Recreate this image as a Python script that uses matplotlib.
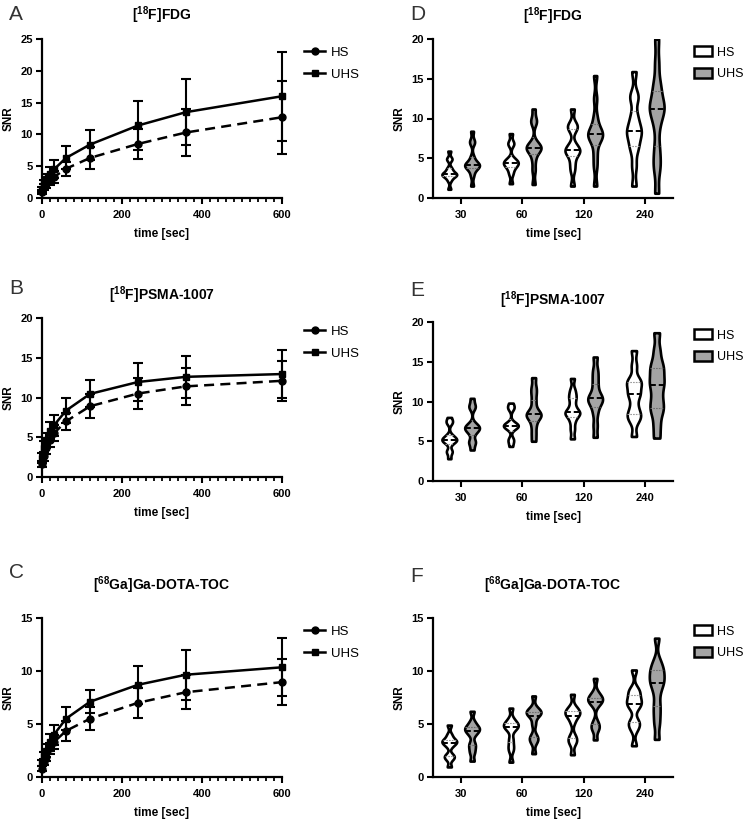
import numpy as np
import matplotlib
matplotlib.use("Agg")
import matplotlib.pyplot as plt
from matplotlib.ticker import MultipleLocator
from matplotlib.lines import Line2D
from matplotlib.patches import Patch

plt.rcParams['font.family'] = ['Liberation Sans', 'DejaVu Sans']
plt.rcParams['mathtext.fontset'] = 'custom'
plt.rcParams['mathtext.rm'] = 'Liberation Sans'
plt.rcParams['mathtext.bf'] = 'Liberation Sans:bold'
plt.rcParams['mathtext.default'] = 'bf'

# ---- line panels (A-C): mean SNR +- SD over acquisition time ----
times = [1, 5, 10, 20, 30, 60, 120, 240, 360, 600]

fdg_hs = [1.0, 1.7, 2.2, 2.8, 3.3, 4.6, 6.3, 8.5, 10.3, 12.7]
fdg_hs_sd = [0.3, 0.5, 0.6, 0.7, 0.9, 1.1, 1.75, 2.4, 3.75, 5.75]
fdg_uhs = [1.3, 2.3, 3.0, 3.8, 4.5, 6.3, 8.4, 11.4, 13.5, 16.0]
fdg_uhs_sd = [0.4, 0.6, 0.8, 1.0, 1.4, 1.8, 2.35, 3.8, 5.2, 7.0]

psma_hs = [1.6, 2.6, 3.6, 4.6, 5.5, 7.0, 8.9, 10.5, 11.4, 12.1]
psma_hs_sd = [0.4, 0.6, 0.7, 0.8, 1.0, 1.1, 1.5, 1.95, 2.3, 2.5]
psma_uhs = [2.4, 3.7, 4.6, 5.8, 6.5, 8.35, 10.45, 11.95, 12.6, 12.95]
psma_uhs_sd = [0.6, 0.8, 0.9, 1.1, 1.3, 1.6, 1.7, 2.4, 2.6, 3.05]

dota_hs = [0.8, 1.4, 1.9, 2.7, 3.3, 4.35, 5.5, 7.0, 8.0, 8.95]
dota_hs_sd = [0.2, 0.3, 0.4, 0.5, 0.7, 0.95, 1.1, 1.4, 1.6, 2.2]
dota_uhs = [1.3, 2.0, 2.5, 3.3, 4.0, 5.5, 7.1, 8.7, 9.65, 10.35]
dota_uhs_sd = [0.3, 0.4, 0.6, 0.8, 0.95, 1.1, 1.1, 1.8, 2.35, 2.75]

# ---- violin panels (D-F): per-lesion SNR at 30/60/120/240 s ----
cats = ['30', '60', '120', '240']

fdg_hs_v = [
    [1.1, 2.2, 2.6, 2.8, 2.9, 3.0, 3.0, 3.2, 3.5, 3.8, 4.8, 5.0, 5.9],
    [1.8, 3.0, 3.6, 4.0, 4.2, 4.4, 4.5, 4.7, 5.0, 6.7, 7.0, 8.1],
    [1.5, 3.5, 4.5, 5.5, 5.8, 6.0, 6.2, 6.8, 8.6, 9.0, 9.3, 11.2],
    [1.5, 4.0, 6.0, 6.8, 7.8, 8.3, 8.6, 9.5, 10.5, 12.5, 13.0, 15.9],
]
fdg_uhs_v = [
    [1.5, 2.8, 3.5, 3.8, 4.0, 4.1, 4.2, 4.3, 4.6, 5.2, 6.9, 7.2, 8.4],
    [1.7, 3.5, 4.8, 5.8, 6.1, 6.2, 6.4, 6.6, 7.0, 9.5, 9.8, 11.2],
    [1.5, 4.0, 5.5, 7.0, 7.6, 7.9, 8.1, 8.3, 9.0, 10.2, 12.5, 15.4],
    [0.6, 3.5, 4.8, 6.5, 9.0, 10.5, 11.2, 11.5, 12.0, 13.5, 14.5, 17.0, 20.0],
]
psma_hs_v = [
    [2.8, 3.6, 3.8, 4.7, 5.0, 5.1, 5.2, 5.3, 5.5, 5.8, 7.3, 7.5, 8.0],
    [4.35, 5.0, 5.3, 6.6, 6.8, 6.9, 7.0, 7.1, 7.3, 9.1, 9.3, 9.8],
    [5.3, 6.5, 7.5, 8.2, 8.5, 8.6, 8.8, 9.5, 10.3, 10.8, 11.5, 12.9],
    [5.6, 7.5, 8.2, 8.5, 9.5, 10.8, 11.0, 12.0, 12.4, 12.8, 14.5, 16.4],
]
psma_uhs_v = [
    [3.9, 4.8, 5.0, 6.0, 6.4, 6.6, 6.7, 6.9, 7.2, 9.2, 9.5, 10.4],
    [5.0, 6.0, 7.0, 7.8, 8.2, 8.3, 8.5, 9.0, 10.0, 11.0, 11.8, 13.0],
    [5.5, 7.0, 8.5, 9.5, 10.0, 10.3, 10.5, 11.0, 12.0, 13.0, 14.0, 15.6],
    [5.4, 7.0, 8.5, 9.2, 10.0, 11.0, 12.1, 12.5, 13.5, 14.2, 15.0, 16.5, 18.65],
]
dota_hs_v = [
    [0.95, 1.7, 1.9, 2.1, 2.9, 3.2, 3.3, 3.4, 3.6, 4.0, 4.9],
    [1.4, 2.5, 3.0, 3.6, 4.4, 4.7, 4.8, 5.0, 5.1, 5.5, 6.5],
    [2.1, 3.2, 3.5, 3.9, 5.2, 5.8, 5.9, 6.1, 6.3, 6.6, 7.8],
    [2.95, 4.5, 5.0, 5.3, 6.5, 6.9, 7.1, 7.5, 8.0, 8.3, 10.1],
]
dota_uhs_v = [
    [1.5, 2.3, 2.8, 3.2, 4.0, 4.3, 4.5, 4.6, 4.8, 5.2, 6.2],
    [2.2, 3.3, 3.6, 3.9, 5.0, 5.8, 6.0, 6.1, 6.2, 6.5, 7.65],
    [3.5, 4.5, 4.75, 5.2, 6.8, 7.1, 7.3, 7.4, 7.6, 8.0, 9.3],
    [3.55, 5.0, 6.0, 6.9, 8.0, 8.8, 9.0, 9.5, 10.0, 10.3, 11.0, 13.1],
]

titles = [r'[$^{18}$F]FDG', r'[$^{18}$F]PSMA-1007', r'[$^{68}$Ga]Ga-DOTA-TOC']
GRAY = '#a4a4a4'
W, H = 749, 823

fig = plt.figure(figsize=(W / 100, H / 100), dpi=100)


def px_axes(left, top, right, bottom):
    return fig.add_axes([left / W, 1 - bottom / H, (right - left) / W, (bottom - top) / H])


def fig_text(x, y, s, **kw):
    fig.text(x / W, 1 - y / H, s, **kw)


def style_axes(ax):
    for s in ['top', 'right']:
        ax.spines[s].set_visible(False)
    for s in ['left', 'bottom']:
        ax.spines[s].set_linewidth(1.6)
    ax.tick_params(which='major', width=1.5, length=4.5, labelsize=8, pad=2)
    ax.tick_params(axis='x', which='major', pad=4)
    ax.tick_params(which='minor', width=1.3, length=2.8)
    for lab in ax.get_xticklabels() + ax.get_yticklabels():
        lab.set_fontweight('bold')
    ax.set_ylabel('SNR', fontsize=8.5, fontweight='bold', labelpad=4)
    ax.set_xlabel('time [sec]', fontsize=8.5, fontweight='bold', labelpad=6)


def line_panel(ax, hs, hs_sd, uhs, uhs_sd, ymax):
    ax.errorbar(times, uhs, yerr=uhs_sd, color='black', lw=1.8, marker='s', ms=5,
                capsize=3.5, capthick=1.5, elinewidth=1.5, clip_on=False, zorder=3)
    ax.errorbar(times, hs, yerr=hs_sd, color='black', lw=1.8, ls=(0, (4, 2.5)), marker='o', ms=5,
                capsize=3.5, capthick=1.5, elinewidth=1.5, clip_on=False, zorder=3)
    ax.set_xlim(0, 600)
    ax.set_ylim(0, ymax)
    ax.xaxis.set_major_locator(MultipleLocator(200))
    ax.xaxis.set_minor_locator(MultipleLocator(20))
    ax.yaxis.set_major_locator(MultipleLocator(5))
    style_axes(ax)
    handles = [Line2D([], [], color='black', lw=1.8, marker='o', ms=5),
               Line2D([], [], color='black', lw=1.8, marker='s', ms=5)]
    ax.legend(handles, ['HS', 'UHS'], loc='upper left', bbox_to_anchor=(1.065, 0.995),
              frameon=False, borderpad=0, fontsize=9.5, handlelength=1.6,
              handletextpad=0.4, labelspacing=0.75)


def half_width(body, pos, y):
    v = body.get_paths()[0].vertices
    right = v[v[:, 0] >= pos]
    order = np.argsort(right[:, 1])
    return np.interp(y, right[order, 1], right[order, 0] - pos)


def violin_panel(ax, hs_v, uhs_v, ymax):
    x = np.arange(len(cats))
    for data, off, face, qcol in [(hs_v, -0.185, 'white', '#9a9a9a'), (uhs_v, 0.185, GRAY, '#6e6e6e')]:
        pos = x + off
        parts = ax.violinplot(data, positions=pos, widths=0.24, showextrema=False,
                              bw_method=0.22, points=300)
        for body, p, d in zip(parts['bodies'], pos, data):
            body.set_facecolor(face)
            body.set_edgecolor('black')
            body.set_linewidth(1.9)
            body.set_alpha(1)
            q1, med, q3 = np.percentile(d, [25, 50, 75])
            for q in (q1, q3):
                hw = half_width(body, p, q)
                ax.plot([p - hw, p + hw], [q, q], color=qcol, lw=0.8, ls=(0, (1.5, 1)), zorder=3)
            hw = half_width(body, p, med)
            ax.plot([p - hw, p + hw], [med, med], color='black', lw=1.4, ls=(0, (3, 1.5)), zorder=3)
    ax.set_xlim(-0.45, 3.45)
    ax.set_ylim(0, ymax)
    ax.set_xticks(x)
    ax.set_xticklabels(cats)
    ax.yaxis.set_major_locator(MultipleLocator(5))
    style_axes(ax)
    handles = [Patch(facecolor='white', edgecolor='black', lw=1.8),
               Patch(facecolor=GRAY, edgecolor='black', lw=1.8)]
    ax.legend(handles, ['HS', 'UHS'], loc='upper left', bbox_to_anchor=(1.06, 0.995),
              frameon=False, borderpad=0, fontsize=9, handlelength=1.45, handleheight=0.9,
              handletextpad=0.45, labelspacing=0.75)


axA = px_axes(42, 39, 282, 198)
axB = px_axes(42, 318, 282, 477)
axC = px_axes(42, 618, 282, 777)
axD = px_axes(433, 39, 673, 198)
axE = px_axes(433, 322, 673, 481)
axF = px_axes(433, 618, 673, 777)

line_panel(axA, fdg_hs, fdg_hs_sd, fdg_uhs, fdg_uhs_sd, 25)
line_panel(axB, psma_hs, psma_hs_sd, psma_uhs, psma_uhs_sd, 20)
line_panel(axC, dota_hs, dota_hs_sd, dota_uhs, dota_uhs_sd, 15)
violin_panel(axD, fdg_hs_v, fdg_uhs_v, 20)
violin_panel(axE, psma_hs_v, psma_uhs_v, 20)
violin_panel(axF, dota_hs_v, dota_uhs_v, 15)

# panel titles and letters, placed in figure pixels
title_pos = [(162, 15), (162, 295), (162, 585), (553, 16), (553, 300), (553, 585)]
letter_pos = [(9, 14, 'A'), (9, 288, 'B'), (9, 573, 'C'), (410, 14, 'D'), (410, 290, 'E'), (410, 577, 'F')]
for (tx, ty), t in zip(title_pos, titles + titles):
    fig_text(tx, ty, t, fontsize=10, fontweight='bold', ha='center', va='center')
for lx, ly, s in letter_pos:
    fig_text(lx, ly, s, fontsize=15, color='#333333', ha='left', va='center')

fig.savefig('out.png', dpi=100)
